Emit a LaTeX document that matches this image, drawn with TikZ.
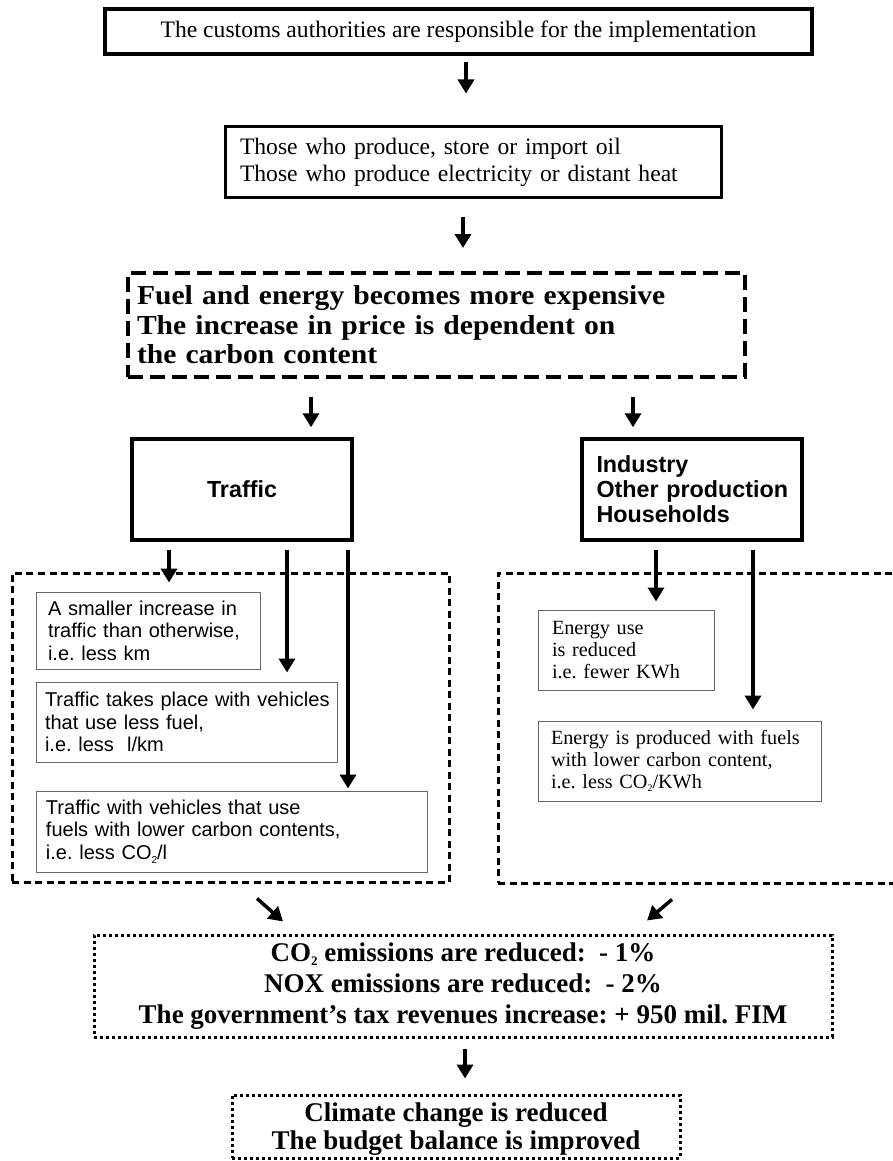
\documentclass[tikz,border=0pt]{standalone}
\usepackage{fontspec}
\setmainfont{Liberation Serif}
\setsansfont{Liberation Sans}
\newfontfamily\widebf[FakeStretch=1.08]{Liberation Serif}
\usepackage{tikz}
\usetikzlibrary{arrows.meta}
\newcommand{\subtwo}[1]{\raisebox{-0.35ex}{\fontsize{#1}{#1}\selectfont 2}}
\tikzstyle{arr} = [line width=4pt, -{Triangle[length=14pt, width=16pt]}]
\tikzstyle{subbox} = [rectangle, draw=black!60, line width=1pt, inner ysep=2pt, align=left]
\frenchspacing
\begin{document}
\begin{tikzpicture}[
    x=1pt, y=-1pt,
    sector/.style={draw=black, rectangle, line width=3.5pt, minimum width=220pt, minimum height=101pt, font=\sffamily\bfseries\fontsize{23.3}{25}\selectfont},
    group/.style={draw=black, rectangle, line width=3pt, dash pattern=on 7pt off 4.5pt},
    dotbox/.style={draw=black, rectangle, line width=3pt, dash pattern=on 3pt off 3pt, align=center, font=\bfseries\fontsize{27}{31}\selectfont},
    trafsub/.style={subbox, font=\sffamily\fontsize{20}{22.5}\selectfont},
    enersub/.style={subbox, font=\fontsize{20.2}{22}\selectfont}
]
\useasboundingbox (0,0) rectangle (893,1161);
\clip (0,0) rectangle (893,1161);

% Top
\node[draw=black, rectangle, line width=4pt, minimum width=707pt, minimum height=45pt, font=\fontsize{23.6}{27}\selectfont] (customs) at (458.5,31.5) {The customs authorities are responsible for the implementation};
\node[draw=black, rectangle, line width=3pt, text width=476pt, inner xsep=10pt, minimum height=71pt, align=left, font=\fontsize{23.6}{27}\selectfont] (producers) at (473,162.5) {\hspace*{5pt}Those who produce, store or import oil\\\hspace*{5pt}Those who produce electricity or distant heat};
\node[draw=black, rectangle, line width=4pt, dash pattern=on 15pt off 7pt, text width=599pt, inner xsep=9pt, minimum height=104pt, align=left, font=\widebf\bfseries\fontsize{27.4}{29.5}\selectfont] (price) at (436.5,325) {Fuel and energy becomes more expensive\\The increase in price is dependent on\\the carbon content};

% Sectors
\node[sector] (traffic) at (242,489.5) {Traffic};
\node[sector, text width=205pt, inner xsep=7.5pt, align=left] (industry) at (692,489.5) {\hspace*{7pt}Industry\\\hspace*{7pt}Other production\\\hspace*{7pt}Households};

% Groups
\node[group, minimum width=437pt, minimum height=309pt] (trafgrp) at (230.5,727.5) {};
\node[group, minimum width=502pt, minimum height=310pt] (energrp) at (749,728) {};

% Traffic effects
\node[trafsub, text width=214pt, inner xsep=5pt, minimum height=77pt] (t1) at (148,630.5) {\hspace*{7pt}A smaller increase in\\\hspace*{7pt}traffic than otherwise,\\\hspace*{7pt}i.e. less km};
\node[trafsub, text width=295pt, inner xsep=3pt, minimum height=80pt] (t2) at (186.5,722) {\hspace*{6pt}Traffic takes place with vehicles\\\hspace*{6pt}that use less fuel,\\\hspace*{6pt}i.e. less~~l/km};
\node[trafsub, text width=381pt, inner xsep=5pt, minimum height=81pt] (t3) at (231.5,831.5) {\hspace*{5pt}Traffic with vehicles that use\\\hspace*{5pt}fuels with lower carbon contents,\\\hspace*{5pt}i.e. less CO\subtwo{10}/l};

% Energy effects
\node[enersub, text width=166pt, inner xsep=5pt, minimum height=80pt] (e1) at (626,650) {\hspace*{9pt}Energy use\\\hspace*{9pt}is reduced\\\hspace*{9pt}i.e. fewer KWh};
\node[enersub, text width=273pt, inner xsep=5pt, minimum height=80pt] (e2) at (679.5,761) {\hspace*{8pt}Energy is produced with fuels\\\hspace*{8pt}with lower carbon content,\\\hspace*{8pt}i.e. less CO\subtwo{10}/KWh};

% Results
\node[dotbox, minimum width=738pt, minimum height=102pt] (result) at (463,986) {CO\subtwo{13} emissions are reduced:~~- 1\%\\NOX emissions are reduced:~~- 2\%\\The government’s tax revenues increase: + 950 mil. FIM};
\node[dotbox, minimum width=448pt, minimum height=63pt, inner ysep=0pt, text depth=-6pt, font=\bfseries\fontsize{27}{28}\selectfont] (outcome) at (456,1126.5) {Climate change is reduced\\The budget balance is improved};

% Draw arrows
\draw[arr, shorten <=6pt, shorten >=32pt] ([xshift=7.5pt]customs.south) -- ([xshift=-7pt]producers.north);
\draw[arr, shorten <=17pt, shorten >=23pt] ([xshift=-10pt]producers.south) -- ([xshift=26.5pt]price.north);
\draw[arr, shorten <=18pt, shorten >=10pt] ([xshift=-125.5pt]price.south) -- ([xshift=69pt]traffic.north);
\draw[arr, shorten <=18pt, shorten >=10pt] ([xshift=196.5pt]price.south) -- ([xshift=-59pt]industry.north);
\draw[arr, shorten <=8pt, shorten >=9pt] ([xshift=-73pt]traffic.south) -- ([xshift=21pt]t1.north);
\draw[arr, shorten <=8pt, shorten >=9pt] ([xshift=45pt]traffic.south) -- ([xshift=100.5pt]t2.north);
\draw[arr, shorten <=8pt, shorten >=2pt] ([xshift=106pt]traffic.south) -- ([xshift=116.5pt]t3.north);
\draw[arr, shorten <=8pt, shorten >=8pt] ([xshift=-36pt]industry.south) -- ([xshift=30pt]e1.north);
\draw[arr, shorten <=8pt, shorten >=11pt] ([xshift=61pt]industry.south) -- ([xshift=73.5pt]e2.north);
\draw[arr, line width=3.5pt] ([xshift=26.5pt,yshift=-15pt]trafgrp.south) -- ([xshift=-180pt,yshift=12pt]result.north);
\draw[arr, line width=3.5pt] ([xshift=-77pt,yshift=-15pt]energrp.south) -- ([xshift=184pt,yshift=13pt]result.north);
\draw[arr, shorten <=10pt, shorten >=15pt] ([xshift=2pt]result.south) -- ([xshift=9pt]outcome.north);
\end{tikzpicture}
\end{document}
